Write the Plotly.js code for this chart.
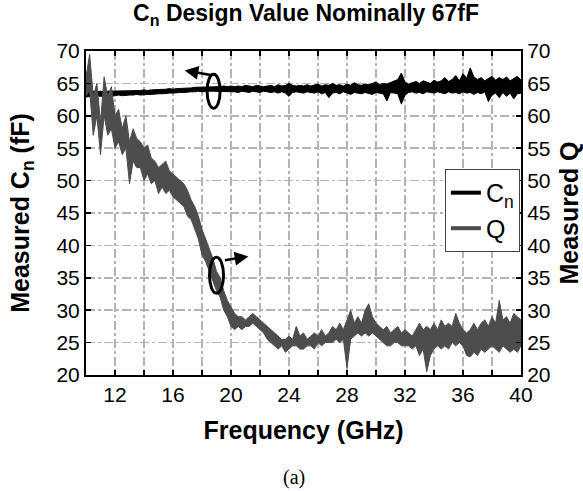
<!DOCTYPE html>
<html>
<head>
<meta charset="utf-8">
<script src="https://cdn.plot.ly/plotly-3.0.1.min.js"></script>
<style>html,body{margin:0;padding:0;background:#fff;}#chart{width:583px;height:491px;}</style>
</head>
<body>
<div id="chart"></div>
<script>
// Frequency samples (GHz), 0.25 GHz step
const freq = [10,10.25,10.5,10.75,11,11.25,11.5,11.75,12,12.25,12.5,12.75,13,13.25,13.5,13.75,14,14.25,14.5,14.75,15,15.25,15.5,15.75,16,16.25,16.5,16.75,17,17.25,17.5,17.75,18,18.25,18.5,18.75,19,19.25,19.5,19.75,20,20.25,20.5,20.75,21,21.25,21.5,21.75,22,22.25,22.5,22.75,23,23.25,23.5,23.75,24,24.25,24.5,24.75,25,25.25,25.5,25.75,26,26.25,26.5,26.75,27,27.25,27.5,27.75,28,28.25,28.5,28.75,29,29.25,29.5,29.75,30,30.25,30.5,30.75,31,31.25,31.5,31.75,32,32.25,32.5,32.75,33,33.25,33.5,33.75,34,34.25,34.5,34.75,35,35.25,35.5,35.75,36,36.25,36.5,36.75,37,37.25,37.5,37.75,38,38.25,38.5,38.75,39,39.25,39.5,39.75,40];

// Measured Cn (fF): lower and upper edge of the noisy trace
const cnLow = [62.9,63.0,63.0,63.1,63.0,63.1,63.1,63.0,63.1,63.2,63.1,63.2,63.2,63.2,63.3,63.2,63.3,63.3,63.3,63.4,63.4,63.4,63.5,63.5,63.5,63.6,63.6,63.6,63.7,63.7,63.7,63.8,63.7,63.8,63.8,63.8,63.8,63.7,63.8,63.7,63.8,63.7,63.6,63.8,63.7,63.6,63.8,63.7,63.6,63.8,63.7,63.6,63.7,63.5,63.7,63.5,63.0,63.6,63.7,63.6,63.5,63.7,63.6,63.5,63.7,63.4,63.6,62.8,63.5,63.6,63.4,63.7,63.5,63.3,63.6,63.5,63.4,63.6,63.5,63.3,63.6,63.5,63.4,62.3,63.6,63.5,63.4,61.8,63.2,63.6,63.7,63.5,63.6,63.4,63.7,63.6,63.5,63.7,63.6,63.4,63.7,63.5,63.6,63.4,63.7,63.5,63.6,63.3,63.6,63.4,63.7,62.2,63.2,63.5,62.8,63.6,63.0,63.5,62.6,63.4,63.5];
const cnHigh = [63.9,63.7,63.8,63.7,63.8,63.7,63.8,63.8,63.8,63.8,63.9,63.8,63.9,63.9,63.9,63.9,64.0,63.9,64.0,64.0,64.1,64.0,64.1,64.2,64.1,64.2,64.2,64.3,64.3,64.3,64.4,64.4,64.4,64.5,64.4,64.5,64.5,64.5,64.6,64.5,64.6,64.5,64.6,64.5,64.7,64.6,64.5,64.7,64.6,64.5,64.6,64.7,64.5,64.8,64.6,64.7,65.0,64.7,64.6,64.7,64.6,64.8,64.6,64.7,64.9,64.6,64.8,64.7,65.0,64.7,64.8,64.6,64.9,64.7,65.1,64.8,64.7,64.9,64.8,65.0,65.2,64.8,65.0,64.9,65.1,65.3,65.6,66.6,65.2,64.9,65.1,65.3,65.0,65.4,65.2,65.0,65.5,65.2,65.4,65.9,65.3,65.6,66.2,65.4,66.5,65.8,67.4,66.0,65.6,65.9,65.4,65.7,66.1,65.5,65.9,65.6,66.0,65.4,65.8,66.1,65.5];

// Measured Q: lower and upper edge of the noisy trace
const qLow = [63,64,57,60,54,60,57,58,55,56,54,55,49.5,53,52,52,50,51,49.5,50,48,49,48,48.5,47.5,47,46.5,46,44.5,44,42.5,41,38.5,37.5,36,34.5,33,32,30,29,27.5,27,27.5,27,27.5,27.5,28,27.5,27,26.5,25.5,25,24.5,24,24.5,23.5,24,24.5,24.5,24,24,24.5,24.5,24,25,24.5,25,25,25,25.5,25,25.5,21,25.5,26,26.5,26,26.5,26,26.5,26,25.5,25,24.5,24.5,25,25,24.5,24.5,24.5,24,24.5,23,24,20.5,23,24,24.5,24,24.5,24,25,24.5,25,24.5,23,22.8,23.5,23,24,23.5,24,24.5,24,23.5,24.5,24,23.5,24,23.5,24.5];
const qHigh = [66,69.5,63,65,59,66,63,64.5,60,61,58,60,56,58,56.5,56,55,55.5,53.5,53,52,52.5,53,51.5,51,50.5,50,49.5,48.5,47,46,44.5,42.5,41,39.5,38,36,35,33,31.5,30.5,29.5,29,29,28.5,29,29.5,29,28.5,28,27.5,27,26.5,26,25.5,25.5,26,25.5,27.5,26,26.5,25.5,26,26.5,26,27,26,26.5,27.5,27,28,27,28.5,30,28,29,28,30,31,29,28,27.5,27,27.5,26.5,27,27.5,26.5,27,26.5,26,27,28,27,27.5,27,28,27,28.5,27.5,28,27.5,29.5,28,27,26.5,27,28,27,28,28.5,27.5,29,28,31.5,28.5,29,28,29.5,29,28.5];

// Tick labels
const xTickVals = [12,14,16,18,20,22,24,26,28,30,32,34,36,38,40];
const xTickText = ['12','','16','','20','','24','','28','','32','','36','','40'];
const yTickVals = [20,25,30,35,40,45,50,55,60,65,70];

const FONT = 'Arial, "Liberation Sans", Helvetica, sans-serif';
const CN_COLOR = '#000000';
const Q_COLOR = '#4d4d4d';

const traces = [
  {x: freq, y: cnLow, type: 'scatter', mode: 'lines', line: {color: CN_COLOR, width: 1},
   yaxis: 'y', showlegend: false, hoverinfo: 'skip'},
  {x: freq, y: cnHigh, type: 'scatter', mode: 'lines', line: {color: CN_COLOR, width: 1},
   fill: 'tonexty', fillcolor: CN_COLOR, yaxis: 'y', showlegend: false},
  {x: freq, y: qLow, type: 'scatter', mode: 'lines', line: {color: Q_COLOR, width: 1},
   yaxis: 'y2', showlegend: false, hoverinfo: 'skip'},
  {x: freq, y: qHigh, type: 'scatter', mode: 'lines', line: {color: Q_COLOR, width: 1},
   fill: 'tonexty', fillcolor: Q_COLOR, yaxis: 'y2', showlegend: false},
  // legend entries
  {x: [null], y: [null], name: 'C<sub>n</sub>', type: 'scatter', mode: 'lines',
   line: {color: CN_COLOR, width: 4}, yaxis: 'y'},
  {x: [null], y: [null], name: 'Q', type: 'scatter', mode: 'lines',
   line: {color: Q_COLOR, width: 4}, yaxis: 'y2'}
];

const grid = {showgrid: true, gridcolor: '#b4b4b4', gridwidth: 1.5, griddash: 'dashdot'};

const layout = {
  width: 583, height: 491,
  margin: {l: 86, r: 62, t: 51, b: 116},
  paper_bgcolor: '#ffffff', plot_bgcolor: '#ffffff',
  font: {family: FONT, color: '#000', size: 21},
  title: {text: '<b>C<sub>n</sub> Design Value Nominally 67fF</b>', font: {family: FONT, size: 23, color: '#000'},
          x: 0.525, xanchor: 'center', y: 0.99, yanchor: 'top'},
  showlegend: true,
  legend: {x: 0.825, y: 0.636, xanchor: 'left', yanchor: 'top', bgcolor: '#fff',
           bordercolor: '#444', borderwidth: 1, font: {family: FONT, size: 25, color: '#000'},
           itemwidth: 30, tracegroupgap: 0, traceorder: 'normal'},
  xaxis: Object.assign({range: [10, 40], tickvals: xTickVals, ticktext: xTickText,
          ticks: 'inside', ticklen: 5, tickwidth: 1.5, tickcolor: '#000',
          showline: true, linecolor: '#000', linewidth: 2, mirror: 'ticks', zeroline: false,
          tickfont: {family: FONT, size: 21},
          title: {text: '<b>Frequency (GHz)</b>', font: {family: FONT, size: 25}, standoff: 16}}, grid),
  yaxis: Object.assign({range: [20, 70], tickvals: yTickVals,
          ticks: 'inside', ticklen: 5, tickwidth: 1.5, tickcolor: '#000',
          showline: true, linecolor: '#000', linewidth: 2, zeroline: false,
          tickfont: {family: FONT, size: 21},
          title: {text: '<b>Measured C<sub>n</sub> (fF)</b>', font: {family: FONT, size: 25}, standoff: 20}}, grid),
  yaxis2: {range: [20, 70], tickvals: yTickVals, overlaying: 'y', side: 'right',
          ticks: 'inside', ticklen: 5, tickwidth: 1.5, tickcolor: '#000',
          showline: true, linecolor: '#000', linewidth: 2, zeroline: false, showgrid: false,
          tickfont: {family: FONT, size: 21},
          title: {text: '<b>Measured Q</b>', font: {family: FONT, size: 25}, standoff: 13}},
  shapes: [
    {type: 'circle', xref: 'x', yref: 'y', xsizemode: 'pixel', ysizemode: 'pixel',
     xanchor: 18.8, yanchor: 63.8, x0: -6.5, x1: 6.5, y0: -17, y1: 17,
     line: {color: '#000', width: 3}},
    {type: 'circle', xref: 'x', yref: 'y', xsizemode: 'pixel', ysizemode: 'pixel',
     xanchor: 19.0, yanchor: 35.4, x0: -7, x1: 7, y0: -18, y1: 18,
     line: {color: '#000', width: 3}}
  ],
  annotations: [
    {x: 16.8, y: 67.0, xref: 'x', yref: 'y', ax: 29, ay: 5, showarrow: true,
     arrowhead: 2, arrowsize: 1.1, arrowwidth: 2.5, arrowcolor: '#000', text: ''},
    {x: 21.2, y: 38.3, xref: 'x', yref: 'y', ax: -25, ay: 4, showarrow: true,
     arrowhead: 2, arrowsize: 1.1, arrowwidth: 2.5, arrowcolor: '#000', text: ''},
    {x: 0.5, y: -0.315, xref: 'paper', yref: 'paper', yanchor: 'middle', showarrow: false,
     text: '(a)', font: {family: '"Liberation Serif", "Times New Roman", serif', size: 20, color: '#000'},
     xshift: -10}
  ]
};

Plotly.newPlot('chart', traces, layout, {displayModeBar: false, staticPlot: true});
</script>
</body>
</html>
